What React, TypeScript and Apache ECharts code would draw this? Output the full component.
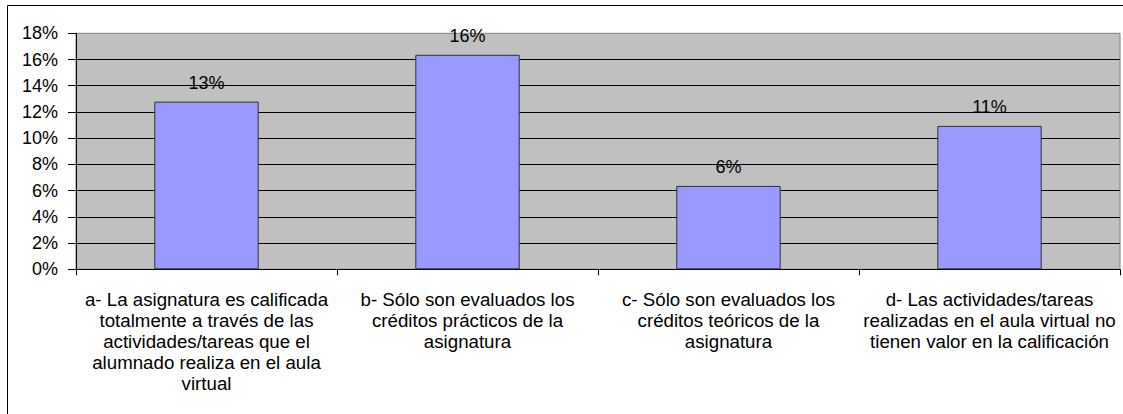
import React, { useEffect, useRef } from "react";
import * as echarts from "echarts";

const categories: string[] = [
  "a- La asignatura es calificada\ntotalmente a través de las\nactividades/tareas que el\nalumnado realiza en el aula\nvirtual",
  "b- Sólo son evaluados los\ncréditos prácticos de la\nasignatura",
  "c- Sólo son evaluados los\ncréditos teóricos de la\nasignatura",
  "d- Las actividades/tareas\nrealizadas en el aula virtual no\ntienen valor en la calificación",
];
const values: number[] = [12.79, 16.36, 6.36, 10.94];
const yMin = 0;
const yMax = 18;
const yStep = 2;

export default function App() {
  const ref = useRef<HTMLDivElement>(null);
  useEffect(() => {
    if (!ref.current) return;
    const chart = echarts.init(ref.current, undefined, { renderer: "svg" });
    const font = "'Liberation Sans', Arial, sans-serif";
    chart.setOption({
      animation: false,
      backgroundColor: "#ffffff",
      graphic: [
        {
          type: "rect",
          shape: { x: 7.5, y: 5.5, width: 1140, height: 430 },
          style: { fill: "none", stroke: "#000000", lineWidth: 1 },
          silent: true,
          z: 100,
        },
      ],
      grid: {
        left: 76,
        right: 3,
        top: 33.3,
        bottom: 144.7,
        show: true,
        backgroundColor: "#C0C0C0",
        borderColor: "#808080",
        borderWidth: 1,
      },
      xAxis: {
        type: "category",
        data: categories,
        axisLine: { show: true, lineStyle: { color: "#000000", width: 1 } },
        axisTick: {
          show: true,
          alignWithLabel: false,
          length: 6,
          lineStyle: { color: "#000000" },
        },
        axisLabel: {
          interval: 0,
          margin: 20,
          fontFamily: font,
          fontSize: 18.7,
          lineHeight: 21,
          color: "#000000",
          align: "center",
        },
        splitLine: { show: false },
      },
      yAxis: {
        type: "value",
        min: yMin,
        max: yMax,
        interval: yStep,
        axisLine: { show: true, lineStyle: { color: "#000000", width: 1 } },
        axisTick: { show: true, length: 8, lineStyle: { color: "#000000" } },
        axisLabel: {
          margin: 18,
          fontFamily: font,
          fontSize: 18,
          color: "#000000",
          formatter: (v: number) => `${v}%`,
        },
        splitLine: {
          show: true,
          showMaxLine: false,
          lineStyle: { color: "#000000", width: 1 },
        },
      },
      series: [
        {
          type: "bar",
          data: values,
          barWidth: "40%",
          itemStyle: {
            color: "#9999FF",
            borderColor: "#333333",
            borderWidth: 1,
          },
          label: {
            show: true,
            position: "top",
            distance: 10,
            fontFamily: font,
            fontSize: 18,
            color: "#000000",
            formatter: (p: any) => `${Math.round(p.value)}%`,
          },
        },
      ],
    });
    return () => chart.dispose();
  }, []);
  return (
    <div
      ref={ref}
      style={{ position: "fixed", left: 0, top: 0, width: 1123, height: 414 }}
    />
  );
}
